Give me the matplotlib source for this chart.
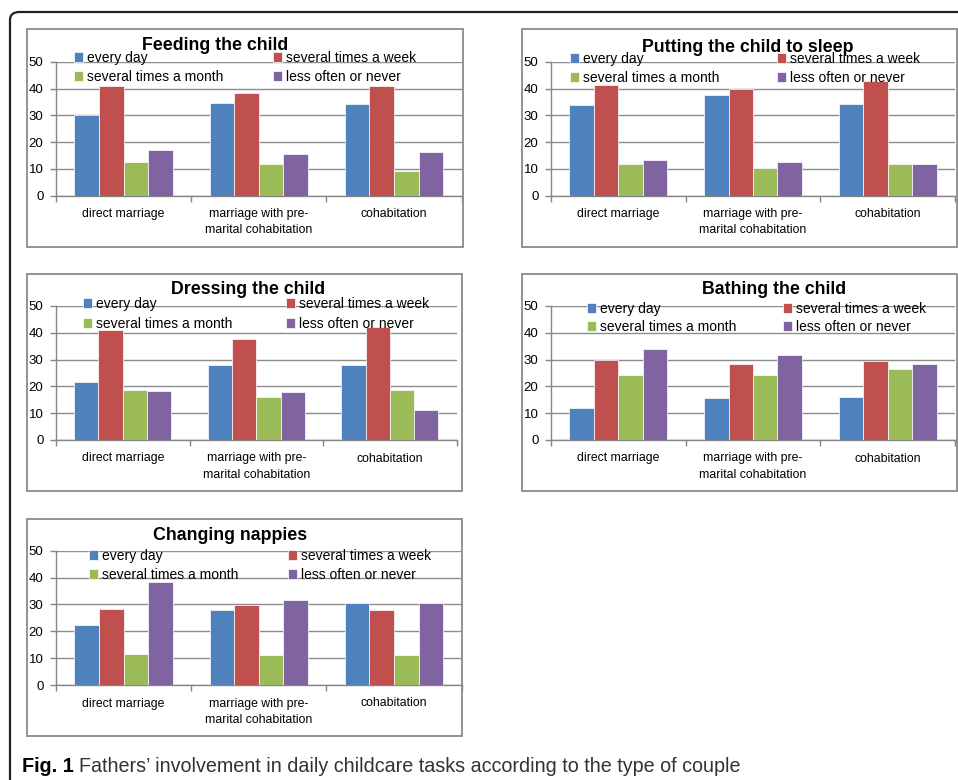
import numpy as np
import matplotlib
matplotlib.use('Agg')
import matplotlib.pyplot as plt
from matplotlib.patches import FancyBboxPatch, Rectangle

plt.rcParams['font.family'] = ['Liberation Sans', 'DejaVu Sans']

W, H = 958, 780

categories = ['direct marriage', 'marriage with pre-\nmarital cohabitation', 'cohabitation']
series = ['every day', 'several times a week', 'several times a month', 'less often or never']
colors = ['#4F81BD', '#C0504D', '#9BBB59', '#8064A2']

titles = ['Feeding the child', 'Putting the child to sleep', 'Dressing the child',
          'Bathing the child', 'Changing nappies']

# values per panel: rows = series, cols = categories
feeding = [[30.0, 34.6, 34.1], [41.0, 38.3, 40.8], [12.6, 11.7, 9.1], [16.9, 15.7, 16.2]]
sleep = [[34.0, 37.6, 34.1], [41.4, 39.9, 42.8], [11.7, 10.4, 11.7], [13.3, 12.7, 11.7]]
dressing = [[21.8, 28.1, 27.9], [41.0, 37.7, 42.3], [18.7, 16.2, 18.5], [18.3, 17.9, 11.2]]
bathing = [[11.9, 15.7, 15.9], [30.0, 28.5, 29.5], [24.1, 24.1, 26.5], [34.0, 31.6, 28.2]]
nappies = [[22.3, 28.0, 30.6], [28.4, 29.9, 28.1], [11.4, 11.1, 11.3], [38.4, 31.6, 30.6]]
panels = [feeding, sleep, dressing, bathing, nappies]

# layout in pixels: box (x0, y0, x1, y1), axes (x0, y0, x1, y1), title (x, y), legend cols x, rows y
boxes = [(27, 29, 463, 247), (522, 29, 957, 247), (27, 274, 462, 491),
         (522, 274, 957, 491), (27, 519, 462, 736)]
axes_px = [(56, 61.7, 461.7, 195.7), (551, 61.7, 955, 195.7), (56, 306, 456.7, 440),
           (551, 306, 955, 440), (56, 550.7, 461.7, 685)]
title_pos = [(215, 46), (748, 47), (248, 290), (774, 290), (230, 536)]
leg_x = [(74, 273), (570, 777), (83, 286), (587, 783), (89, 288)]
leg_y = [57, 58, 303, 308, 555]
row_gap = [18, 18, 19, 17, 18]

fig = plt.figure(figsize=(W / 100, H / 100), dpi=100)

def fx(x):
    return x / W

def fy(y):
    return 1 - y / H

# outer frame
fig.patches.append(FancyBboxPatch((fx(10), fy(800)), fx(980) - fx(10), fy(12) - fy(800),
                                  boxstyle='round,pad=0,rounding_size=0.01',
                                  transform=fig.transFigure, fill=False,
                                  edgecolor='#222222', linewidth=1.6))

x = np.arange(len(categories))
bw = 1 / 5.5
leg_fs = 10

for i, data in enumerate(panels):
    bx0, by0, bx1, by1 = boxes[i]
    fig.patches.append(Rectangle((fx(bx0), fy(by1)), fx(bx1) - fx(bx0), fy(by0) - fy(by1),
                                 transform=fig.transFigure, fill=False,
                                 edgecolor='#8a8a8a', linewidth=1.3))
    ax0, ay0, ax1, ay1 = axes_px[i]
    ax = fig.add_axes([fx(ax0), fy(ay1), fx(ax1) - fx(ax0), fy(ay0) - fy(ay1)])
    handles = []
    for j, s in enumerate(series):
        h = ax.bar(x + (j - 1.5) * bw, data[j], width=bw, color=colors[j],
                   edgecolor='white', linewidth=0.5, label=s, zorder=3)
        handles.append(h)
    ax.set_xlim(-0.5, 2.5)
    ax.set_ylim(0, 50)
    ax.set_yticks([0, 10, 20, 30, 40, 50])
    ax.yaxis.grid(True, color='#8c8c8c', linewidth=1, zorder=0)
    ax.set_xticks([-0.5, 0.5, 1.5, 2.5])
    ax.set_xticklabels([])
    ax.set_xticks(x, minor=True)
    ax.set_xticklabels(categories, minor=True, fontsize=8.8, linespacing=1.45)
    ax.tick_params(axis='x', which='minor', length=0, pad=9)
    ax.tick_params(axis='x', which='major', length=4, color='#868686', width=1)
    ax.tick_params(axis='y', length=4, color='#868686', width=1, labelsize=9.5, pad=5)
    for sp in ['top', 'right']:
        ax.spines[sp].set_visible(False)
    for sp in ['left', 'bottom']:
        ax.spines[sp].set_color('#868686')
        ax.spines[sp].set_linewidth(1)
    ax.patch.set_alpha(0)

    tx, ty = title_pos[i]
    fig.text(fx(tx), fy(ty), titles[i], ha='center', va='center',
             fontsize=12.8, fontweight='bold')

    # legend: two columns, each a separate legend for exact placement
    c1, c2 = leg_x[i]
    ytop = leg_y[i] - 6
    for cx, idx in [(c1, [0, 2]), (c2, [1, 3])]:
        fig.legend([handles[k] for k in idx], [series[k] for k in idx],
                   loc='upper left', bbox_to_anchor=(fx(cx), fy(ytop)),
                   bbox_transform=fig.transFigure, frameon=False, fontsize=leg_fs,
                   borderpad=0, borderaxespad=0, handlelength=0.65, handleheight=0.65,
                   handletextpad=0.3, labelspacing=(row_gap[i] - 13) / 13.9)

# caption
fig.canvas.draw()
cap1 = fig.text(fx(22), fy(766), 'Fig. 1', ha='left', va='center', fontsize=14.2,
                fontweight='bold')
bb = cap1.get_window_extent(renderer=fig.canvas.get_renderer())
fig.text((bb.x1 + 5) / W, fy(766),
         'Fathers\u2019 involvement in daily childcare tasks according to the type of couple',
         ha='left', va='center', fontsize=14.2, color='#333333')

fig.savefig('out.png', dpi=100)
